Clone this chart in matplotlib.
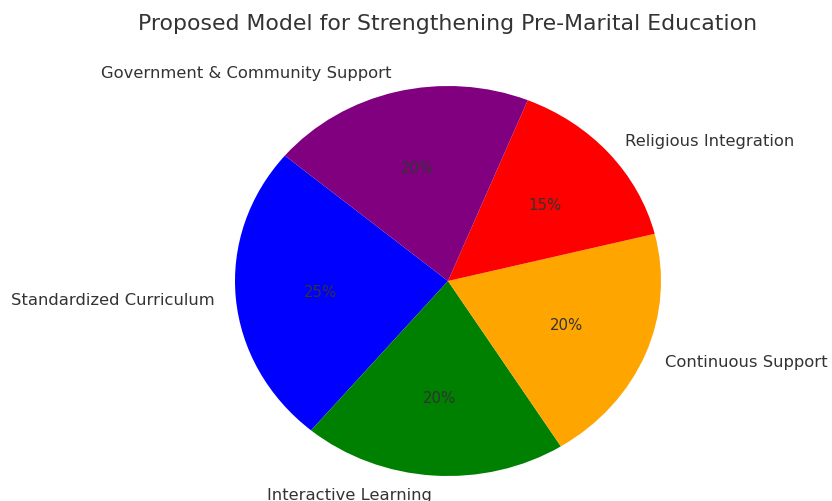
import matplotlib
matplotlib.use("Agg")
import matplotlib.pyplot as plt

labels = ["Standardized Curriculum", "Interactive Learning", "Continuous Support",
          "Religious Integration", "Government & Community Support"]
values = [25, 20, 20, 15, 20]
colors = ["blue", "green", "orange", "red", "purple"]
title = "Proposed Model for Strengthening Pre-Marital Education"

fig = plt.figure(figsize=(8.32, 5.02), dpi=100)
ax = fig.add_axes([0, 0, 1, 1])
wedges, texts, autotexts = ax.pie(values, labels=labels, colors=colors,
                                  autopct="%1.0f%%", startangle=140,
                                  textprops={"color": "#333333", "fontsize": 11.8})
for t in autotexts:
    t.set_fontsize(10.7)
ax.set_aspect("auto")
ax.set_xlim(-448 / 213, (832 - 448) / 213)
ax.set_ylim(-220 / 195, 282 / 195)
ax.axis("off")
fig.text(0.538, 0.952, title, ha="center", va="center", fontsize=15.8, color="#333333")
fig.savefig("out.png", dpi=100)
